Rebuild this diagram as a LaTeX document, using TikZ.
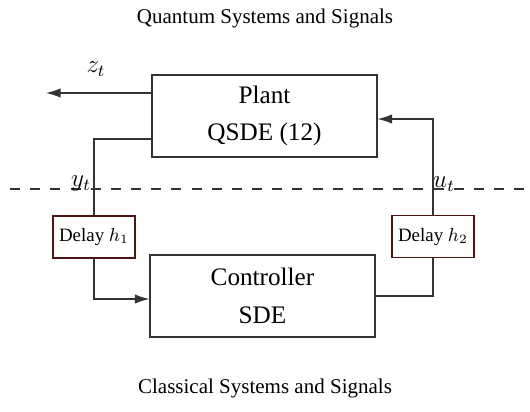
\documentclass[tikz,border=0pt]{standalone}
\usepackage[no-math]{fontspec}
\setmainfont{Liberation Serif}
\usetikzlibrary{arrows.meta}
\definecolor{linec}{gray}{0.2}
\definecolor{delayc}{rgb}{0.3,0.08,0.08}
\begin{document}
\begin{tikzpicture}[x=0.476pt,y=-0.476pt,
  bigbox/.style={draw=linec,line width=0.6pt,minimum width=107pt,minimum height=39pt,align=center,font=\large,inner sep=0pt},
  delaybox/.style={draw=delayc,line width=0.6pt,minimum width=39pt,minimum height=20pt,font=\small,inner sep=0pt},
  conn/.style={draw=linec,line width=0.6pt},
  arr/.style={conn,-{Latex[length=7pt,width=4.5pt]}},
  lbl/.style={inner sep=0pt},
  mlbl/.style={inner sep=0pt,font=\large}]
\useasboundingbox (0,0) rectangle (530,412);
\node[lbl] (qtitle) at (265,18) {Quantum Systems and Signals};
\node[lbl] (ctitle) at (265,388) {Classical Systems and Signals};
\node[bigbox] (plant) at (264.5,116) {Plant\\[4pt]QSDE (12)};
\node[bigbox] (ctrl) at (262.5,296) {Controller\\[4pt]SDE};
\node[delaybox] (d1) at (94,237) {Delay $h_1$};
\node[delaybox] (d2) at (433,236.5) {Delay $h_2$};
\coordinate (zend) at (46,93);
\coordinate (yjoin) at (94,139);
\coordinate (ycorner) at (94,299);
\coordinate (ucorner) at (433,296);
\coordinate (utop) at (433,119);
\coordinate (dl) at (10,189);
\coordinate (dr) at (530,189);
\draw[conn,dash pattern=on 4.8pt off 4.8pt] (dl) -- (dr);
\draw[arr] (plant.west|-zend) -- (zend);
\draw[conn] (plant.west|-yjoin) -- (yjoin) -- (d1.north);
\draw[arr] (d1.south) -- (ycorner) -- (ctrl.west|-ycorner);
\draw[conn] (ctrl.east|-ucorner) -- (ucorner) -- (d2.south);
\draw[arr] (d2.north) -- (utop) -- (plant.east|-utop);
\node[mlbl] (zl) at (96,69) {$z_t$};
\node[mlbl] (yl) at (81,184) {$y_t$};
\node[mlbl] (ul) at (444,184) {$u_t$};
\end{tikzpicture}
\end{document}
